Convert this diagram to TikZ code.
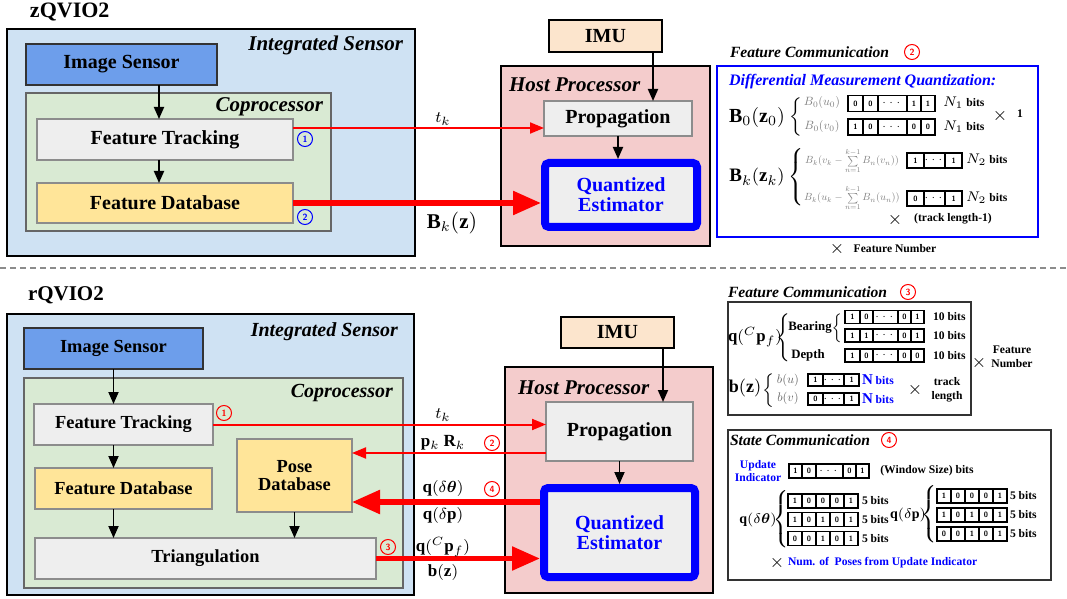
\documentclass[tikz,border=0pt]{standalone}
\usepackage{amsmath}
\usepackage{graphicx}
\usepackage{fontspec}
\setmainfont{Liberation Serif}
\usepackage{tikz}
\definecolor{sensorblue}{RGB}{207,226,243}
\definecolor{imgblue}{RGB}{109,158,235}
\definecolor{copgreen}{RGB}{217,234,211}
\definecolor{boxgray}{RGB}{238,238,238}
\definecolor{dbyellow}{RGB}{255,229,153}
\definecolor{imupeach}{RGB}{252,229,205}
\definecolor{hostpink}{RGB}{244,204,204}
\definecolor{qblue}{RGB}{0,0,255}
\definecolor{qred}{RGB}{255,0,0}
\usetikzlibrary{arrows.meta, positioning, calc}

\newcommand{\fsz}[1]{\fontsize{#1}{#1}\selectfont}
\newcommand{\lbrc}[1]{$\left\{\vcenter{\hbox{\rule{0pt}{#1}}}\right.$}
% small math: typeset at 10pt, then shrunk
\newcommand{\smath}[2]{\scalebox{#1}{\fsz{10}$#2$}}
% a row of bit cells: [options]{name}{west point}{width/bit,...}
\newcommand{\bits}[4][]{%
  \node[minimum size=0pt] (#2-0) at (#3) {};
  \foreach \w/\bt [count=\i] in {#4}{%
    \pgfmathtruncatemacro{\j}{\i-1}%
    \node[bitcell, #1, minimum width=\w pt, anchor=west] (#2-\i) at (#2-\j.east) {\bt};
  }%
}

\begin{document}
\begin{tikzpicture}[
    x=0.5pt, y=-0.5pt,
    every node/.style={inner sep=0pt, outer sep=0pt},
    sensor/.style={rectangle, draw=black, line width=1pt, fill=sensorblue},
    cop/.style={rectangle, draw=black!60, line width=0.6pt, fill=copgreen},
    host/.style={rectangle, draw=black, line width=1pt, fill=hostpink},
    lbl/.style={font=\fsz{10}\bfseries, align=center},
    imgbox/.style={lbl, rectangle, draw=black!80, line width=0.6pt, fill=imgblue},
    graybox/.style={lbl, rectangle, draw=black!45, line width=0.6pt, fill=boxgray},
    dbbox/.style={lbl, rectangle, draw=black!45, line width=0.6pt, fill=dbyellow},
    imubox/.style={lbl, rectangle, draw=black, line width=1pt, fill=imupeach},
    qest/.style={lbl, rectangle, draw=qblue, line width=4pt, rounded corners=2pt, fill=boxgray, text=qblue, outer sep=2pt},
    ttl/.style={font=\fsz{10.5}\bfseries\itshape},
    ttl2/.style={font=\fsz{7.8}\bfseries\itshape},
    panel/.style={rectangle, draw=black!80, line width=0.6pt},
    bcirc/.style={circle, draw=qblue, text=qblue, line width=0.5pt, minimum size=7.5pt, font=\fsz{4.5}\sffamily\bfseries},
    rcirc/.style={circle, draw=qred, text=qred, line width=0.5pt, minimum size=7.5pt, font=\fsz{4.5}\sffamily\bfseries},
    bitcell/.style={rectangle, draw=black, line width=0.9pt, fill=white, font=\fsz{3.8}\sffamily\bfseries},
    mlbl/.style={font=\fsz{8}},
    gmath/.style={text=black!50},
    sbits/.style={font=\fsz{5.8}\bfseries},
    arr/.style={-{Triangle[length=6pt,width=5pt]}, line width=0.9pt},
    tarr/.style={-{Triangle[length=7pt,width=5.5pt]}, qred, line width=1pt},
    farr/.style={-{Triangle[length=14pt,width=11.5pt]}, qred, line width=2.7pt},
    sepline/.style={black!45, line width=0.8pt, dash pattern=on 3pt off 2pt}
]
    \useasboundingbox (0,0) rectangle (1067,599);

    % ---------------- zQVIO2 ----------------
    \node[anchor=west, font=\fsz{11}\bfseries] (zq) at (30,12) {zQVIO2};
    \node[sensor, minimum width=204pt, minimum height=113.5pt] (ints1) at (211,142.5) {};
    \node[ttl, anchor=east] (ints1t) at (403,45) {Integrated Sensor};
    \node[imgbox, minimum width=95.5pt, minimum height=20.5pt] (img1) at (121.5,64.5) {Image Sensor};
    \node[cop, minimum width=152.5pt, minimum height=69pt] (cop1) at (178.5,162) {};
    \node[ttl, anchor=east] (cop1t) at (323,107) {Coprocessor};
    \node[graybox, minimum width=128pt, minimum height=20.5pt] (ft1) at (165,139.5) {Feature Tracking};
    \node[dbbox, minimum width=128pt, minimum height=20pt] (fdb1) at (165,203) {Feature Database};
    \node[bcirc] (n1a) at (305,139) {1};
    \node[bcirc] (n2a) at (305,217) {2};

    \draw[arr] ([xshift=-3pt]ft1.north |- img1.south) -- ([xshift=-3pt]ft1.north);
    \draw[arr] ([xshift=-3pt]ft1.south) -- ([xshift=-3pt]fdb1.north);

    % host side
    \node[imubox, minimum width=56.5pt, minimum height=16pt] (imu1) at (605.5,36) {IMU};
    \node[host, minimum width=104.5pt, minimum height=90pt] (host1) at (605.5,156) {};
    \node[ttl, anchor=west] (host1t) at (509,85) {Host Processor};
    \node[graybox, minimum width=74pt, minimum height=17.5pt] (prop1) at (618,118.5) {Propagation};
    \node[qest, minimum width=76pt, minimum height=32pt] (qe1) at (621,195) {Quantized\\Estimator};

    \draw[arr] ([xshift=-4.5pt]imu1.south east) -- ([xshift=-4.5pt]imu1.south east |- prop1.north);
    \draw[arr] (prop1.south) -- (prop1.south |- qe1.north);

    \coordinate (tk1) at (420,128);
    \draw[tarr] (ft1.east |- tk1) -- (prop1.west |- tk1);
    \node[mlbl] (tk1l) at (443,119) {$t_k$};
    \draw[farr] (fdb1.east) -- (qe1.west |- fdb1.east);
    \node[font=\fsz{10.5}] (bk1l) at (452,223) {$\mathbf{B}_k(\mathbf{z})$};

    % feature communication (differential)
    \node[ttl2, anchor=west] (fc1t) at (730,52) {Feature Communication};
    \node[rcirc] (n2b) at (912,52) {2};
    \node[rectangle, draw=qblue, line width=1pt, minimum width=160.5pt, minimum height=85.5pt] (dmq) at (877.5,151.5) {};
    \node[font=\fsz{8}\bfseries\itshape, text=qblue, anchor=west] (dmqt) at (729,82) {Differential Measurement Quantization:};
    \node[font=\fsz{10}] (b0) at (757,118) {$\mathbf{B}_0(\mathbf{z}_0)$};
    \node[font=\fsz{8}] (br0) at (797,116.5) {\lbrc{16pt}};
    \node[gmath] (b0u) at (822,103) {\smath{0.6}{B_0(u_0)}};
    \node[gmath] (b0v) at (822,127) {\smath{0.6}{B_0(v_0)}};
    \bits[minimum height=8pt]{r0u}{848,103.5}{7.5/0,7.5/0,14.5/$\cdots$,7/1,7/1}
    \bits[minimum height=8pt]{r0v}{848,127}{7.5/1,7.5/0,14.5/$\cdots$,7/0,7/0}
    \node[sbits, anchor=west] (n1u) at (943,103) {{\fsz{7}$N_1$} bits};
    \node[sbits, anchor=west] (n1v) at (943,127) {{\fsz{7}$N_1$} bits};
    \node[font=\fsz{9}] (x0) at (1000,116) {$\times$};
    \node[sbits] (one) at (1020,114) {1};

    \node[font=\fsz{9.5}] (bk) at (757,177) {$\mathbf{B}_k(\mathbf{z}_k)$};
    \node[font=\fsz{8}] (brk) at (797,177) {\lbrc{30pt}};
    \node[gmath] (bkv) at (852,161) {\smath{0.52}{B_k(v_k-\sum\limits_{n=1}^{k-1}B_n(v_n))}};
    \node[gmath] (bku) at (852,198) {\smath{0.52}{B_k(u_k-\sum\limits_{n=1}^{k-1}B_n(u_n))}};
    \bits[minimum height=7.5pt]{rkv}{907,160.5}{8.5/1,10/$\cdots$,8.5/1}
    \bits[minimum height=7.5pt]{rku}{907,198.5}{8.5/0,10/$\cdots$,8.5/1}
    \node[sbits, anchor=west] (n2v) at (966,160) {{\fsz{7}$N_2$} bits};
    \node[sbits, anchor=west] (n2u) at (966,198) {{\fsz{7}$N_2$} bits};
    \node[font=\fsz{9}] (xk) at (895,220) {$\times$};
    \node[sbits] (tl1) at (953,219) {(track length-1)};
    \node[font=\fsz{9}] (xf) at (837,249) {$\times$};
    \node[sbits] (fn1) at (895,249) {Feature Number};

    % separator
    \draw[sepline] (0,268) -- (1067,268);

    % ---------------- rQVIO2 ----------------
    \node[anchor=west, font=\fsz{10.5}\bfseries] (rq) at (28,295) {rQVIO2};
    \node[sensor, minimum width=203.5pt, minimum height=140.5pt] (ints2) at (210.5,454.5) {};
    \node[ttl, font=\fsz{10}\bfseries\itshape, anchor=east] (ints2t) at (398,332) {Integrated Sensor};
    \node[imgbox, font=\fsz{9.2}\bfseries, minimum width=89.5pt, minimum height=20.5pt] (img2) at (113.5,348.5) {Image Sensor};
    \node[cop, minimum width=189.5pt, minimum height=105pt] (cop2) at (213.5,483) {};
    \node[ttl, font=\fsz{10}\bfseries\itshape, anchor=east] (cop2t) at (393,393) {Coprocessor};
    \node[graybox, font=\fsz{9.2}\bfseries, minimum width=89.5pt, minimum height=20.5pt] (ft2) at (123.5,424.5) {Feature Tracking};
    \node[dbbox, font=\fsz{9.2}\bfseries, minimum width=88.5pt, minimum height=20.5pt] (fdb2) at (123.5,488.5) {Feature Database};
    \node[dbbox, font=\fsz{9.2}\bfseries, minimum width=57.5pt, minimum height=36.5pt] (pdb2) at (294.5,475.5) {Pose\\Database};
    \node[graybox, font=\fsz{9.2}\bfseries, minimum width=170.5pt, minimum height=20.5pt] (tri2) at (205.5,558.5) {Triangulation};
    \node[rcirc] (n1c) at (224,413) {1};
    \node[rcirc] (n3c) at (388,547) {3};

    \draw[arr] (img2.south) -- (img2.south |- ft2.north);
    \draw[arr] (img2.south |- ft2.south) -- (img2.south |- fdb2.north);
    \draw[arr] (img2.south |- fdb2.south) -- (img2.south |- tri2.north);
    \draw[arr] (pdb2.south) -- (pdb2.south |- tri2.north);

    % host side
    \node[imubox, minimum width=56.5pt, minimum height=15.5pt] (imu2) at (617.5,332.5) {IMU};
    \node[host, minimum width=104pt, minimum height=113pt] (host2) at (609,480) {};
    \node[ttl, anchor=west] (host2t) at (518,388) {Host Processor};
    \node[graybox, minimum width=73.5pt, minimum height=29.5pt] (prop2) at (619.5,431.5) {Propagation};
    \node[qest, minimum width=75.5pt, minimum height=44.5pt] (qe2) at (619.5,532.5) {Quantized\\Estimator};

    \draw[arr] ([xshift=-5.5pt]imu2.south east) -- ([xshift=-5.5pt]imu2.south east |- prop2.north);
    \draw[arr] (prop2.south) -- (prop2.south |- qe2.north);

    \draw[tarr] (ft2.east) -- (prop2.west |- ft2.east);
    \draw[tarr] ([yshift=4pt]prop2.south west) -- ([yshift=4pt]prop2.south west -| pdb2.east);
    \coordinate (dq) at (450,502);
    \draw[farr] (qe2.west |- dq) -- (pdb2.east |- dq);
    \draw[farr] (tri2.east) -- (qe2.west |- tri2.east);

    \node[mlbl] (tk2l) at (443,415) {$t_k$};
    \node[mlbl, font=\fsz{8.5}] (prl) at (443,443) {$\mathbf{p}_k\ \mathbf{R}_k$};
    \node[mlbl, font=\fsz{8.5}] (dtl) at (443,488) {$\mathbf{q}(\delta\boldsymbol{\theta})$};
    \node[mlbl, font=\fsz{8.5}] (dpl) at (443,515) {$\mathbf{q}(\delta\mathbf{p})$};
    \node[mlbl, font=\fsz{8.5}] (cpl) at (443,547) {$\mathbf{q}(^{C}\mathbf{p}_f)$};
    \node[mlbl, font=\fsz{8.5}] (bzl) at (443,572) {$\mathbf{b}(\mathbf{z})$};
    \node[rcirc] (n2c) at (492,443) {2};
    \node[rcirc] (n4c) at (492,489) {4};

    % feature communication (bearing / depth)
    \node[ttl2, anchor=west] (fc2t) at (728,292) {Feature Communication};
    \node[rcirc] (n3b) at (908,292) {3};
    \node[panel, minimum width=121.5pt, minimum height=56.5pt] (fcb) at (849.5,358.5) {};
    \node[font=\fsz{8.4}] (qcp) at (755,337) {$\mathbf{q}(^{C}\mathbf{p}_f)$};
    \node[font=\fsz{8}] (brq) at (785,337.5) {\lbrc{24pt}};
    \node[font=\fsz{6.4}\bfseries] (bear) at (810,327) {Bearing};
    \node[font=\fsz{6}] (brb) at (838,328) {\lbrc{14pt}};
    \node[font=\fsz{6.4}\bfseries] (dep) at (808,355) {Depth};
    \bits[minimum height=6.5pt]{rb1}{845,317}{7.5/1,6.5/0,12.5/$\cdots$,6.5/0,6.5/1}
    \bits[minimum height=6.5pt]{rb2}{845,335.5}{7.5/1,6.5/1,12.5/$\cdots$,6.5/0,6.5/1}
    \bits[minimum height=6.5pt]{rd}{845,355.5}{7.5/1,6.5/0,12.5/$\cdots$,6.5/0,6.5/0}
    \node[sbits, anchor=west] (tb1) at (933,317) {10 bits};
    \node[sbits, anchor=west] (tb2) at (933,335.5) {10 bits};
    \node[sbits, anchor=west] (tb3) at (933,355.5) {10 bits};
    \node[font=\fsz{9}] (xfn) at (979,363) {$\times$};
    \node[sbits, align=center] (fn2) at (1012,357) {Feature\\[1pt]Number};

    \node[font=\fsz{9}] (bz) at (745,388) {$\mathbf{b}(\mathbf{z})$};
    \node[font=\fsz{7}] (brz) at (770,390.5) {\lbrc{17pt}};
    \node[gmath, text=black!60] (bu) at (788,380) {\smath{0.62}{b(u)}};
    \node[gmath, text=black!60] (bv) at (788,398) {\smath{0.62}{b(v)}};
    \bits[minimum height=6pt]{ru}{808,380}{7.5/1,8.5/$\cdots$,7.5/1}
    \bits[minimum height=6pt]{rv}{808,399}{7.5/0,8.5/$\cdots$,7.5/1}
    \node[sbits, text=qblue, anchor=west] (nbu) at (862,380) {{\fsz{7.5}N} bits};
    \node[sbits, text=qblue, anchor=west] (nbv) at (862,399) {{\fsz{7.5}N} bits};
    \node[font=\fsz{9}] (xtl) at (915,390) {$\times$};
    \node[sbits, align=center] (tl2) at (947,390) {track\\[1pt]length};

    % state communication
    \node[panel, minimum width=161.5pt, minimum height=75pt] (scb) at (889.5,505) {};
    \node[ttl2, anchor=west] (sct) at (730,440) {State Communication};
    \node[rcirc] (n4b) at (889,440) {4};
    \node[sbits, text=qblue, align=center] (upd) at (758,471) {Update\\[1pt]Indicator};
    \bits[minimum height=7pt]{rui}{789,471}{6.5/1,7/0,13.5/$\cdots$,6.5/0,6.5/1}
    \node[sbits] (wsb) at (927,471) {(Window Size) bits};

    \node[font=\fsz{7}] (qdt) at (758,520) {$\mathbf{q}(\delta\boldsymbol{\theta})$};
    \node[font=\fsz{8}] (brt) at (782,519.5) {\lbrc{27pt}};
    \bits[minimum height=7pt]{rt1}{788,501}{7/1,7/0,7/0,7/0,7/1}
    \bits[minimum height=7pt]{rt2}{788,519.5}{7/1,7/0,7/1,7/0,7/1}
    \bits[minimum height=7pt]{rt3}{788,538.5}{7/0,7/0,7/1,7/0,7/1}
    \node[sbits, anchor=west] (fb1) at (862,501) {5 bits};
    \node[sbits, anchor=west] (fb2) at (862,519.5) {5 bits};
    \node[sbits, anchor=west] (fb3) at (862,538.5) {5 bits};

    \node[font=\fsz{7}] (qdp) at (908,515) {$\mathbf{q}(\delta\mathbf{p})$};
    \node[font=\fsz{8}] (brp) at (930,514.5) {\lbrc{27pt}};
    \bits[minimum height=7pt]{rp1}{937,496}{7/1,7/0,7/0,7/0,7/1}
    \bits[minimum height=7pt]{rp2}{937,515}{7/1,7/0,7/1,7/0,7/1}
    \bits[minimum height=7pt]{rp3}{937,534}{7/0,7/0,7/1,7/0,7/1}
    \node[sbits, anchor=west] (fb4) at (1010,496) {5 bits};
    \node[sbits, anchor=west] (fb5) at (1010,515) {5 bits};
    \node[sbits, anchor=west] (fb6) at (1010,534) {5 bits};

    \node[font=\fsz{9}] (xnp) at (777,563) {$\times$};
    \node[sbits, text=qblue, anchor=west] (nump) at (788,563) {Num. of \ Poses from Update Indicator};
\end{tikzpicture}
\end{document}
